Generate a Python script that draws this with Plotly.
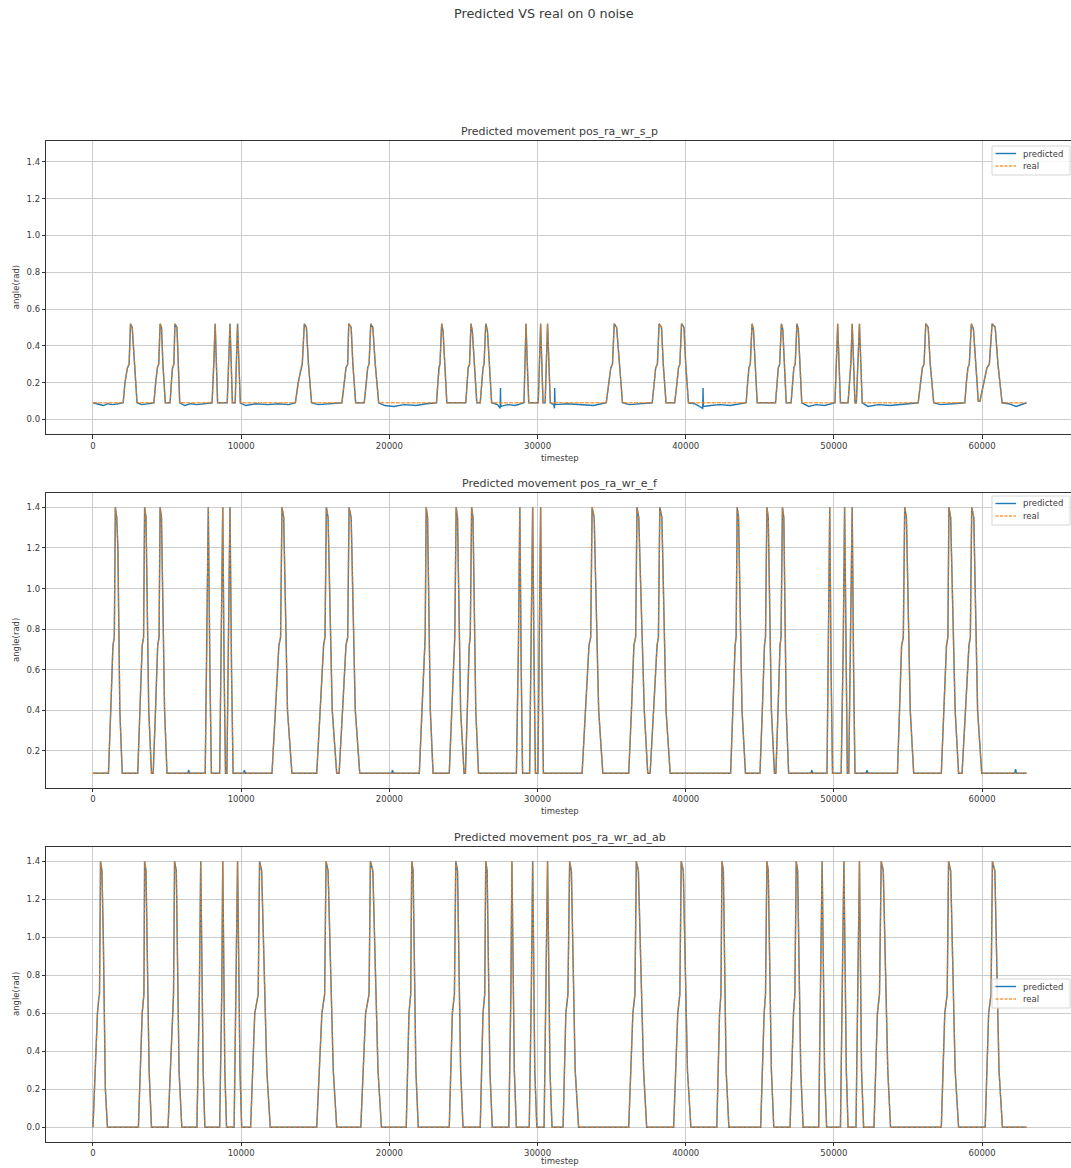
import plotly.graph_objects as go

# ---------------- data ----------------
X_TICKS = [0, 10000, 20000, 30000, 40000, 50000, 60000]
Y_TICKS = [0.0, 0.2, 0.4, 0.6, 0.8, 1.0, 1.2, 1.4]
TITLES = ["Predicted movement pos_ra_wr_s_p",
          "Predicted movement pos_ra_wr_e_f",
          "Predicted movement pos_ra_wr_ad_ab"]
SUPTITLE = "Predicted VS real on 0 noise"
SERIES_NAMES = ["predicted", "real"]

# pos_ra_wr_s_p : (timestep, angle) key points of the real curve
S_P_REAL = [
    (0, 0.09),
    (2040, 0.09), (2160, 0.20), (2323, 0.28), (2439, 0.30), (2532, 0.52), (2648, 0.50), (2788, 0.30), (2973, 0.09),
    (4112, 0.09), (4230, 0.20), (4344, 0.28), (4437, 0.30), (4530, 0.52), (4623, 0.50), (4720, 0.30), (4879, 0.09),
    (5204, 0.09), (5290, 0.20), (5366, 0.28), (5459, 0.30), (5529, 0.52), (5668, 0.50), (5750, 0.30), (5854, 0.09),
    (8038, 0.09), (8154, 0.30), (8247, 0.52), (8330, 0.30), (8410, 0.09),
    (9060, 0.09), (9153, 0.30), (9246, 0.52), (9330, 0.30), (9408, 0.09),
    (9594, 0.09), (9664, 0.30), (9757, 0.52), (9850, 0.30), (9943, 0.09),
    (13659, 0.09), (13845, 0.20), (14031, 0.28), (14124, 0.30), (14263, 0.52), (14403, 0.50), (14542, 0.30), (14751, 0.09),
    (16796, 0.09), (16958, 0.20), (17074, 0.28), (17190, 0.30), (17260, 0.52), (17423, 0.50), (17539, 0.30), (17725, 0.09),
    (18305, 0.09), (18445, 0.20), (18538, 0.28), (18631, 0.30), (18747, 0.52), (18886, 0.50), (19049, 0.30), (19281, 0.09),
    (23183, 0.09), (23270, 0.20), (23346, 0.28), (23416, 0.30), (23532, 0.52), (23625, 0.48), (23740, 0.30), (23880, 0.09),
    (25158, 0.09), (25240, 0.20), (25321, 0.28), (25414, 0.30), (25507, 0.52), (25600, 0.48), (25740, 0.30), (25902, 0.09),
    (26134, 0.09), (26230, 0.20), (26320, 0.28), (26390, 0.30), (26506, 0.52), (26622, 0.48), (26760, 0.30), (26901, 0.09),
    (29084, 0.09), (29153, 0.30), (29223, 0.52), (29310, 0.30), (29409, 0.09),
    (30047, 0.09), (30117, 0.30), (30210, 0.52), (30290, 0.30), (30373, 0.09),
    (30513, 0.09), (30583, 0.30), (30676, 0.52), (30770, 0.30), (30862, 0.09),
    (34639, 0.09), (34802, 0.20), (34942, 0.28), (35058, 0.30), (35175, 0.52), (35338, 0.50), (35501, 0.35), (35734, 0.09),
    (37739, 0.09), (37879, 0.20), (37972, 0.28), (38089, 0.30), (38205, 0.52), (38368, 0.50), (38485, 0.30), (38671, 0.09),
    (39254, 0.09), (39417, 0.20), (39510, 0.28), (39604, 0.30), (39720, 0.52), (39883, 0.50), (40000, 0.30), (40186, 0.09),
    (44079, 0.09), (44180, 0.20), (44266, 0.28), (44359, 0.30), (44476, 0.52), (44569, 0.49), (44700, 0.30), (44825, 0.09),
    (46061, 0.09), (46160, 0.20), (46247, 0.28), (46340, 0.30), (46457, 0.52), (46550, 0.49), (46670, 0.30), (46783, 0.09),
    (47110, 0.09), (47200, 0.20), (47296, 0.28), (47389, 0.30), (47506, 0.52), (47599, 0.49), (47720, 0.30), (47832, 0.09),
    (50070, 0.09), (50163, 0.30), (50257, 0.52), (50350, 0.30), (50443, 0.09),
    (50956, 0.09), (51096, 0.28), (51142, 0.30), (51235, 0.52), (51330, 0.30), (51422, 0.09),
    (51515, 0.09), (51608, 0.30), (51725, 0.52), (51820, 0.30), (51911, 0.09),
    (55688, 0.09), (55851, 0.20), (55967, 0.28), (56084, 0.30), (56200, 0.52), (56363, 0.50), (56503, 0.30), (56736, 0.09),
    (58835, 0.09), (58940, 0.20), (59044, 0.28), (59138, 0.30), (59278, 0.52), (59418, 0.49), (59560, 0.30), (59744, 0.10),
    (59860, 0.10), (60093, 0.20), (60326, 0.28), (60490, 0.30), (60676, 0.52), (60886, 0.50), (61072, 0.30), (61352, 0.09),
    (63000, 0.09),
]
# extra points where the predicted curve leaves the real one (baseline jitter, spikes)
S_P_PRED_EXTRA = [
    (300, 0.085), (700, 0.075), (1000, 0.085), (1300, 0.08), (1700, 0.085),
    (3300, 0.08), (3700, 0.085),
    (6200, 0.075), (6600, 0.085), (7000, 0.08), (7500, 0.085),
    (10300, 0.075), (11000, 0.085), (11800, 0.08), (12500, 0.085), (13200, 0.08),
    (15200, 0.08), (16000, 0.085),
    (19700, 0.075), (20300, 0.07), (21000, 0.08), (21800, 0.075), (22500, 0.085),
    (27300, 0.08), (27480, 0.06), (27500, 0.17), (27520, 0.07), (28000, 0.08), (28500, 0.075),
    (31100, 0.08), (31140, 0.06), (31160, 0.17), (31180, 0.08), (32000, 0.085), (33000, 0.08), (33800, 0.075),
    (36200, 0.08), (37000, 0.085),
    (40600, 0.085), (41150, 0.06), (41170, 0.17), (41190, 0.07), (41700, 0.075), (42300, 0.08), (43000, 0.075), (43600, 0.085),
    (48300, 0.07), (48800, 0.08), (49400, 0.075),
    (52300, 0.07), (53000, 0.08), (53800, 0.075), (54500, 0.08), (55200, 0.085),
    (57200, 0.08), (58000, 0.085),
    (61800, 0.085), (62300, 0.07), (62700, 0.08),
]

# pos_ra_wr_e_f
E_F_REAL = [
    (0, 0.09),
    (1045, 0.09), (1200, 0.40), (1347, 0.72), (1440, 0.76), (1510, 1.40), (1603, 1.35), (1680, 1.20), (1812, 0.40), (1975, 0.09),
    (3020, 0.09), (3170, 0.40), (3322, 0.72), (3415, 0.76), (3485, 1.40), (3578, 1.35), (3763, 0.40), (3949, 0.09),
    (4065, 0.09), (4220, 0.40), (4367, 0.72), (4460, 0.76), (4530, 1.40), (4623, 1.35), (4832, 0.40), (4995, 0.09),
    (7573, 0.09), (7689, 0.72), (7782, 1.40), (7890, 0.60), (7991, 0.09),
    (8549, 0.09), (8665, 0.72), (8758, 1.40), (8850, 0.60), (8944, 0.09),
    (9036, 0.09), (9153, 0.72), (9246, 1.40), (9350, 0.60), (9455, 0.09),
    (12080, 0.09), (12312, 0.40), (12545, 0.72), (12661, 0.76), (12754, 1.40), (12870, 1.35), (13125, 0.40), (13427, 0.09),
    (15100, 0.09), (15332, 0.40), (15564, 0.72), (15657, 0.76), (15750, 1.40), (15866, 1.35), (16145, 0.40), (16447, 0.09),
    (16610, 0.09), (16842, 0.40), (17074, 0.72), (17190, 0.76), (17283, 1.40), (17423, 1.35), (17701, 0.40), (18003, 0.09),
    (22022, 0.09), (22190, 0.40), (22347, 0.72), (22417, 0.76), (22486, 1.40), (22579, 1.35), (22765, 0.40), (22951, 0.09),
    (24043, 0.09), (24200, 0.40), (24345, 0.72), (24415, 0.76), (24508, 1.40), (24601, 1.35), (24810, 0.40), (25042, 0.09),
    (25135, 0.09), (25270, 0.40), (25391, 0.72), (25460, 0.76), (25553, 1.40), (25646, 1.35), (25832, 0.40), (26018, 0.09),
    (28573, 0.09), (28712, 0.72), (28805, 1.40), (28900, 0.60), (28991, 0.09),
    (29464, 0.09), (29580, 0.72), (29673, 1.40), (29770, 0.60), (29860, 0.09),
    (30023, 0.09), (30117, 0.72), (30210, 1.40), (30300, 0.60), (30396, 0.09),
    (33007, 0.09), (33240, 0.40), (33473, 0.72), (33590, 0.76), (33683, 1.40), (33823, 1.35), (34126, 0.40), (34406, 0.09),
    (36154, 0.09), (36340, 0.40), (36504, 0.72), (36620, 0.76), (36713, 1.40), (36830, 1.35), (37203, 0.40), (37436, 0.09),
    (37599, 0.09), (37832, 0.40), (38065, 0.72), (38158, 0.76), (38252, 1.40), (38392, 1.35), (38671, 0.40), (38951, 0.09),
    (43030, 0.09), (43180, 0.40), (43333, 0.72), (43403, 0.76), (43473, 1.40), (43566, 1.35), (43800, 0.40), (44032, 0.09),
    (45012, 0.09), (45170, 0.40), (45315, 0.72), (45385, 0.76), (45478, 1.40), (45571, 1.35), (45781, 0.40), (45991, 0.09),
    (46084, 0.09), (46230, 0.40), (46364, 0.72), (46434, 0.76), (46527, 1.40), (46620, 1.35), (46783, 0.40), (46946, 0.09),
    (49534, 0.09), (49627, 0.72), (49720, 1.40), (49810, 0.60), (49907, 0.09),
    (50490, 0.09), (50630, 0.72), (50723, 1.40), (50810, 0.60), (50909, 0.09),
    (51002, 0.09), (51119, 0.72), (51235, 1.40), (51330, 0.60), (51422, 0.09),
    (54289, 0.09), (54430, 0.40), (54569, 0.72), (54685, 0.76), (54779, 1.40), (54895, 1.35), (55152, 0.40), (55385, 0.09),
    (57249, 0.09), (57420, 0.40), (57599, 0.72), (57692, 0.76), (57762, 1.40), (57879, 1.35), (58182, 0.40), (58415, 0.09),
    (58648, 0.09), (58881, 0.40), (59114, 0.72), (59208, 0.76), (59301, 1.40), (59441, 1.35), (59697, 0.40), (59977, 0.09),
    (63000, 0.09),
]
E_F_PRED_EXTRA = [
    (6400, 0.09), (6458, 0.105), (6520, 0.09),
    (10160, 0.09), (10221, 0.105), (10280, 0.09),
    (20150, 0.09), (20210, 0.105), (20270, 0.09),
    (48450, 0.09), (48508, 0.105), (48570, 0.09),
    (52180, 0.09), (52238, 0.105), (52300, 0.09),
    (62200, 0.09), (62260, 0.11), (62320, 0.09),
]

# pos_ra_wr_ad_ab
AD_AB_REAL = [
    (0, 0.0), (302, 0.60), (395, 0.68), (441, 0.70), (511, 1.40), (604, 1.35), (697, 1.00), (836, 0.20), (976, 0.0),
    (3066, 0.0), (3322, 0.60), (3438, 0.70), (3485, 1.40), (3578, 1.35), (3787, 0.30), (3949, 0.0),
    (5064, 0.0), (5343, 0.60), (5436, 0.70), (5506, 1.40), (5622, 1.35), (5808, 0.30), (5993, 0.0),
    (7015, 0.0), (7178, 0.70), (7271, 1.40), (7434, 0.30), (7550, 0.0),
    (8549, 0.0), (8688, 0.70), (8758, 1.40), (8897, 0.30), (9013, 0.0),
    (9525, 0.0), (9664, 0.70), (9757, 1.40), (9920, 0.30), (10035, 0.0),
    (10639, 0.0), (10918, 0.60), (11150, 0.70), (11243, 1.40), (11383, 1.35), (11731, 0.30), (11963, 0.0),
    (15100, 0.0), (15448, 0.60), (15634, 0.70), (15727, 1.40), (15866, 1.35), (16215, 0.30), (16447, 0.0),
    (18073, 0.0), (18398, 0.60), (18631, 0.70), (18723, 1.40), (18886, 1.35), (19234, 0.30), (19467, 0.0),
    (21139, 0.0), (21325, 0.60), (21441, 0.70), (21511, 1.40), (21604, 1.35), (21790, 0.30), (21952, 0.0),
    (24043, 0.0), (24252, 0.60), (24392, 0.70), (24485, 1.40), (24601, 1.35), (24810, 0.30), (24973, 0.0),
    (26134, 0.0), (26320, 0.60), (26436, 0.70), (26506, 1.40), (26599, 1.35), (26785, 0.30), (26947, 0.0),
    (28062, 0.0), (28201, 0.70), (28271, 1.40), (28434, 0.30), (28573, 0.0),
    (29440, 0.0), (29580, 0.70), (29673, 1.40), (29813, 0.30), (29953, 0.0),
    (30443, 0.0), (30583, 0.70), (30676, 1.40), (30839, 0.30), (30979, 0.0),
    (31725, 0.0), (31911, 0.60), (32051, 0.70), (32168, 1.40), (32284, 1.35), (32541, 0.30), (32774, 0.0),
    (36154, 0.0), (36434, 0.60), (36573, 0.70), (36667, 1.40), (36806, 1.35), (37156, 0.30), (37366, 0.0),
    (39184, 0.0), (39464, 0.60), (39604, 0.70), (39697, 1.40), (39837, 1.35), (40117, 0.30), (40350, 0.0),
    (42098, 0.0), (42284, 0.60), (42378, 0.70), (42448, 1.40), (42541, 1.35), (42727, 0.30), (42914, 0.0),
    (45058, 0.0), (45291, 0.60), (45385, 0.70), (45478, 1.40), (45571, 1.35), (45781, 0.30), (45944, 0.0),
    (47040, 0.0), (47273, 0.60), (47366, 0.70), (47459, 1.40), (47552, 1.35), (47762, 0.30), (47925, 0.0),
    (48974, 0.0), (49114, 0.70), (49207, 1.40), (49370, 0.30), (49510, 0.0),
    (50443, 0.0), (50583, 0.70), (50676, 1.40), (50839, 0.30), (50956, 0.0),
    (51492, 0.0), (51632, 0.70), (51725, 1.40), (51865, 0.30), (52005, 0.0),
    (52704, 0.0), (52937, 0.60), (53077, 0.70), (53193, 1.40), (53333, 1.35), (53636, 0.30), (53823, 0.0),
    (57249, 0.0), (57483, 0.60), (57646, 0.70), (57739, 1.40), (57879, 1.35), (58182, 0.30), (58415, 0.0),
    (60210, 0.0), (60443, 0.60), (60606, 0.70), (60699, 1.40), (60862, 1.35), (61142, 0.30), (61375, 0.0),
    (63000, 0.0),
]
AD_AB_PRED_EXTRA = []

Y_RANGES = [[-0.0815, 1.514], [0.019, 1.469], [-0.0758, 1.4737]]

# ---------------- figure ----------------
W, H = 1071, 1168
BLUE = "#1f77b4"
ORANGE = "#ff7f0e"
FONT = "DejaVu Sans"
TXT = "#3a3a3a"


def split(points):
    pts = sorted(points)
    return [p[0] for p in pts], [p[1] for p in pts]


def fx(p):
    return p / W


def fy(p):
    return 1 - p / H


panels = [
    (S_P_REAL, S_P_PRED_EXTRA),
    (E_F_REAL, E_F_PRED_EXTRA),
    (AD_AB_REAL, AD_AB_PRED_EXTRA),
]
# pixel geometry of the three axes boxes (top, bottom)
BOXES = [(141.0, 434.3), (493.3, 787.7), (847.3, 1141.7)]
LEFT = 46.3
LEGEND_TOPS = [146, 496, 979]

fig = go.Figure()
layout = dict(
    width=W, height=H, margin=dict(l=0, r=0, t=0, b=0),
    paper_bgcolor="white", plot_bgcolor="white",
    font=dict(family=FONT, size=9, color=TXT),
    showlegend=False,
    annotations=[], shapes=[],
)

for i, (real, extra) in enumerate(panels):
    n = "" if i == 0 else str(i + 1)
    rx, ry = split(real)
    px, py = split(real + extra)
    fig.add_trace(go.Scatter(x=px, y=py, mode="lines", name=SERIES_NAMES[0],
                             line=dict(color=BLUE, width=1.4),
                             xaxis="x" + n, yaxis="y" + n))
    fig.add_trace(go.Scatter(x=rx, y=ry, mode="lines", name=SERIES_NAMES[1],
                             line=dict(color=ORANGE, width=1.4, dash="4px,1.2px"),
                             opacity=0.72, xaxis="x" + n, yaxis="y" + n))
    top, bot = BOXES[i]
    layout["xaxis" + n] = dict(
        domain=[LEFT / W, 1.0], range=[-3150, (W - 93) / 148.18 * 10000],
        anchor="y" + n, tickvals=X_TICKS, ticktext=[str(v) for v in X_TICKS],
        ticks="outside", ticklen=3.5, tickcolor="#333333", tickwidth=0.8,
        showline=True, linecolor="#333333", linewidth=1, mirror=True,
        showgrid=True, gridcolor="#cccccc", gridwidth=0.8, zeroline=False,
        tickfont=dict(family=FONT, size=8.5, color=TXT),
    )
    yt = [v for v in Y_TICKS if Y_RANGES[i][0] <= v <= Y_RANGES[i][1]]
    layout["yaxis" + n] = dict(
        domain=[fy(bot), fy(top)], range=Y_RANGES[i],
        anchor="x" + n, tickvals=yt, ticktext=["%.1f" % v for v in yt],
        ticks="outside", ticklen=3.5, tickcolor="#333333", tickwidth=0.8,
        showline=True, linecolor="#333333", linewidth=1, mirror=False,
        showgrid=True, gridcolor="#cccccc", gridwidth=0.8, zeroline=False,
        tickfont=dict(family=FONT, size=8.5, color=TXT),
    )
    # legend box (drawn in the matplotlib style)
    lt = LEGEND_TOPS[i]
    layout["shapes"] += [
        dict(type="rect", xref="paper", yref="paper", x0=fx(992), x1=fx(1070),
             y0=fy(lt + 29), y1=fy(lt), line=dict(color="#d6d6d6", width=1),
             fillcolor="rgba(255,255,255,0.85)", layer="above"),
        dict(type="line", xref="paper", yref="paper", x0=fx(995.5), x1=fx(1016),
             y0=fy(lt + 7.5), y1=fy(lt + 7.5), line=dict(color=BLUE, width=1.4), layer="above"),
        dict(type="line", xref="paper", yref="paper", x0=fx(995.5), x1=fx(1016),
             y0=fy(lt + 20), y1=fy(lt + 20), opacity=0.8,
             line=dict(color=ORANGE, width=1.4, dash="3px,1.5px"), layer="above"),
    ]
    cx = fx((LEFT + 1073.2) / 2)
    layout["annotations"] += [
        dict(text=SERIES_NAMES[0], x=fx(1021), y=fy(lt + 7.5), xref="paper", yref="paper",
             showarrow=False, xanchor="left", yanchor="middle",
             font=dict(family=FONT, size=8.5, color=TXT)),
        dict(text=SERIES_NAMES[1], x=fx(1021), y=fy(lt + 20), xref="paper", yref="paper",
             showarrow=False, xanchor="left", yanchor="middle",
             font=dict(family=FONT, size=8.5, color=TXT)),
        dict(text=TITLES[i], x=cx, y=fy(top - 10), xref="paper", yref="paper",
             showarrow=False, xanchor="center", yanchor="middle",
             font=dict(family=FONT, size=11, color=TXT)),
        dict(text="timestep", x=cx, y=fy(min(bot + 23.5, H - 7)), xref="paper", yref="paper",
             showarrow=False, xanchor="center", yanchor="middle",
             font=dict(family=FONT, size=8.5, color=TXT)),
        dict(text="angle(rad)", x=fx(15.5), y=fy((top + bot) / 2), xref="paper", yref="paper",
             showarrow=False, xanchor="center", yanchor="middle", textangle=-90,
             font=dict(family=FONT, size=8.5, color=TXT)),
    ]

layout["annotations"].append(
    dict(text=SUPTITLE, x=fx(544), y=fy(14), xref="paper", yref="paper",
         showarrow=False, xanchor="center", yanchor="middle",
         font=dict(family=FONT, size=12.8, color=TXT)))

fig.update_layout(**layout)
fig.write_html("out.html")
